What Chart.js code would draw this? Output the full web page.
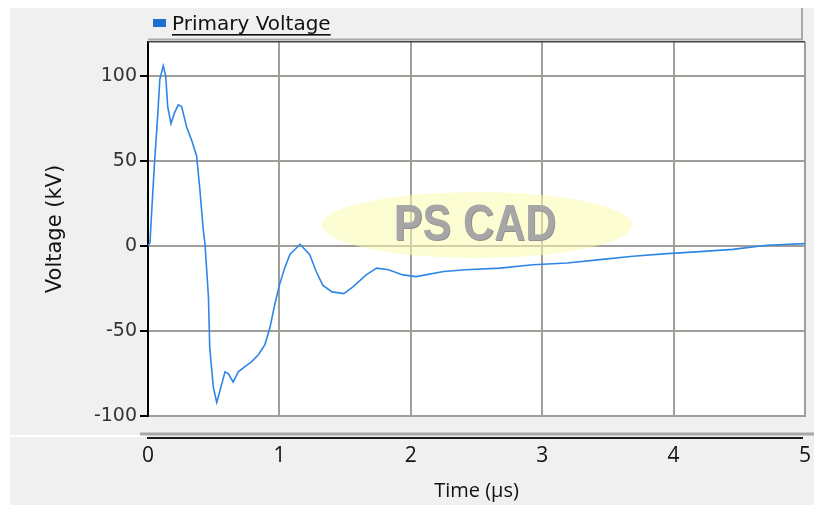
<!DOCTYPE html>
<html>
<head>
<meta charset="utf-8">
<script src="https://cdn.jsdelivr.net/npm/chart.js@4.4.1/dist/chart.umd.min.js"></script>
<style>
  html, body { margin: 0; padding: 0; background: #fff; }
  #wrap { width: 814px; height: 507px; }
</style>
</head>
<body>
<div id="wrap"><canvas id="chart" width="814" height="507"></canvas></div>
<script>
// values
const timeUs = [0, 0.015, 0.028, 0.048, 0.074, 0.09, 0.116, 0.135, 0.15, 0.175,
    0.2, 0.23, 0.256, 0.294, 0.333, 0.37, 0.395, 0.42, 0.434, 0.46,
    0.47, 0.497, 0.523, 0.548, 0.586, 0.611, 0.648, 0.687, 0.737, 0.789,
    0.84, 0.89, 0.928, 0.966, 1.0, 1.04, 1.08, 1.157, 1.23, 1.28,
    1.33, 1.4, 1.49, 1.56, 1.66, 1.74, 1.83, 1.94, 2.04, 2.25,
    2.42, 2.68, 2.93, 3.19, 3.44, 3.69, 3.95, 4.2, 4.45, 4.71, 5.0];
const voltageKv = [0, 2, 20, 47, 77, 98, 106, 100, 82, 72,
    78, 83, 82, 70, 62, 53, 33, 10, 1, -30,
    -60, -83, -92, -85, -74, -75, -80, -74, -71, -68,
    -64, -58, -48, -34, -23, -13, -5, 1, -5, -15,
    -23, -27, -28, -24, -17, -13, -14, -17, -18, -15,
    -14, -13, -11, -10, -8, -6, -4.5, -3.3, -2, 0.4, 1.4];

const seriesName = 'Primary Voltage';
const xTitle = 'Time (µs)';
const yTitle = 'Voltage (kV)';
const watermark = 'PS CAD';

const gridGray = '#a19e99';

// background panels, legend, watermark - the pscad look
const framePlugin = {
    id: 'frame',
    beforeDraw(chart) {
        const { ctx, chartArea: a } = chart;
        ctx.save();
        ctx.fillStyle = '#fff';
        ctx.fillRect(0, 0, chart.width, chart.height);
        ctx.fillStyle = '#f0f0f0';
        ctx.fillRect(10, 8, chart.width - 10, 497);
        ctx.fillStyle = '#fff';
        ctx.fillRect(a.left, a.top, a.right - a.left, a.bottom - a.top);
        // legend box edges
        ctx.fillStyle = '#a8a8a8';
        ctx.fillRect(801, 8, 2, 32);
        ctx.fillRect(a.left, 38.5, 655, 2);
        // split between plot panel and axis panel
        ctx.fillStyle = '#fff';
        ctx.fillRect(10, 435, a.left - 10, 2);
        ctx.fillStyle = '#a8a8a8';
        ctx.fillRect(140, 432.5, chart.width - 140, 3);
        ctx.fillStyle = '#1a1a1a';
        ctx.fillRect(147, 437, 656, 2);
        ctx.restore();
    },
    beforeDatasetsDraw(chart) {
        const { ctx } = chart;
        ctx.save();
        ctx.fillStyle = 'rgba(252, 252, 175, 0.55)';
        ctx.beginPath();
        ctx.ellipse(477, 225, 155, 33, 0, 0, Math.PI * 2);
        ctx.fill();
        ctx.translate(475, 226);
        ctx.scale(0.86, 1);
        ctx.font = 'bold 50px "Liberation Sans"';
        ctx.textAlign = 'center';
        ctx.textBaseline = 'middle';
        ctx.fillStyle = '#8f8f8f';
        ctx.fillText(watermark, 1, 1);
        ctx.fillStyle = '#a6a6a6';
        ctx.fillText(watermark, 0, 0);
        ctx.restore();
    },
    afterDraw(chart) {
        const { ctx, chartArea: a } = chart;
        ctx.save();
        ctx.fillStyle = '#444';
        ctx.fillRect(a.left, a.top - 1, a.right - a.left, 1.5);
        // legend item
        ctx.fillStyle = '#1f6fd0';
        ctx.fillRect(153, 19, 13, 8);
        ctx.font = '20px "DejaVu Sans"';
        ctx.fillStyle = '#111';
        ctx.textBaseline = 'alphabetic';
        ctx.fillText(seriesName, 172, 30);
        const w = ctx.measureText(seriesName).width;
        ctx.fillRect(172, 34, w, 1.6);
        ctx.restore();
    }
};

new Chart(document.getElementById('chart'), {
    type: 'line',
    data: {
        datasets: [{
            label: seriesName,
            data: timeUs.map((t, i) => ({ x: t, y: voltageKv[i] })),
            borderColor: '#2f86e6',
            borderWidth: 1.6,
            pointRadius: 0,
            tension: 0,
            fill: false
        }]
    },
    options: {
        responsive: false,
        animation: false,
        layout: { padding: { left: 10, top: 42, right: 9, bottom: 0 } },
        plugins: {
            legend: { display: false },
            tooltip: { enabled: false }
        },
        scales: {
            x: {
                type: 'linear',
                min: 0,
                max: 5,
                afterFit(scale) {
                    scale.height = 91;
                    scale.paddingLeft = 0;
                    scale.paddingRight = 0;
                },
                ticks: {
                    stepSize: 1,
                    padding: 27,
                    color: '#111',
                    font: { family: 'Open Sans', size: 21 }
                },
                grid: { color: gridGray, lineWidth: 2, drawTicks: false },
                border: { color: gridGray, width: 2 },
                title: {
                    display: true,
                    text: xTitle,
                    color: '#111',
                    font: { family: 'Open Sans', size: 20 },
                    padding: { top: 4, bottom: 4 }
                }
            },
            y: {
                min: -100,
                max: 120,
                afterFit(scale) {
                    scale.width = 138;
                    scale.paddingTop = 0;
                    scale.paddingBottom = 0;
                },
                ticks: {
                    stepSize: 50,
                    includeBounds: false,
                    padding: 3,
                    color: '#333',
                    font: { family: 'DejaVu Sans', size: 19 }
                },
                grid: { color: gridGray, lineWidth: 2, tickLength: 8, tickColor: '#000', tickWidth: 2 },
                border: { color: '#000', width: 2 },
                title: {
                    display: true,
                    text: yTitle,
                    color: '#111',
                    font: { family: 'DejaVu Sans', size: 21 },
                    padding: { top: 33, bottom: 0 }
                }
            }
        }
    },
    plugins: [framePlugin]
});
</script>
</body>
</html>
